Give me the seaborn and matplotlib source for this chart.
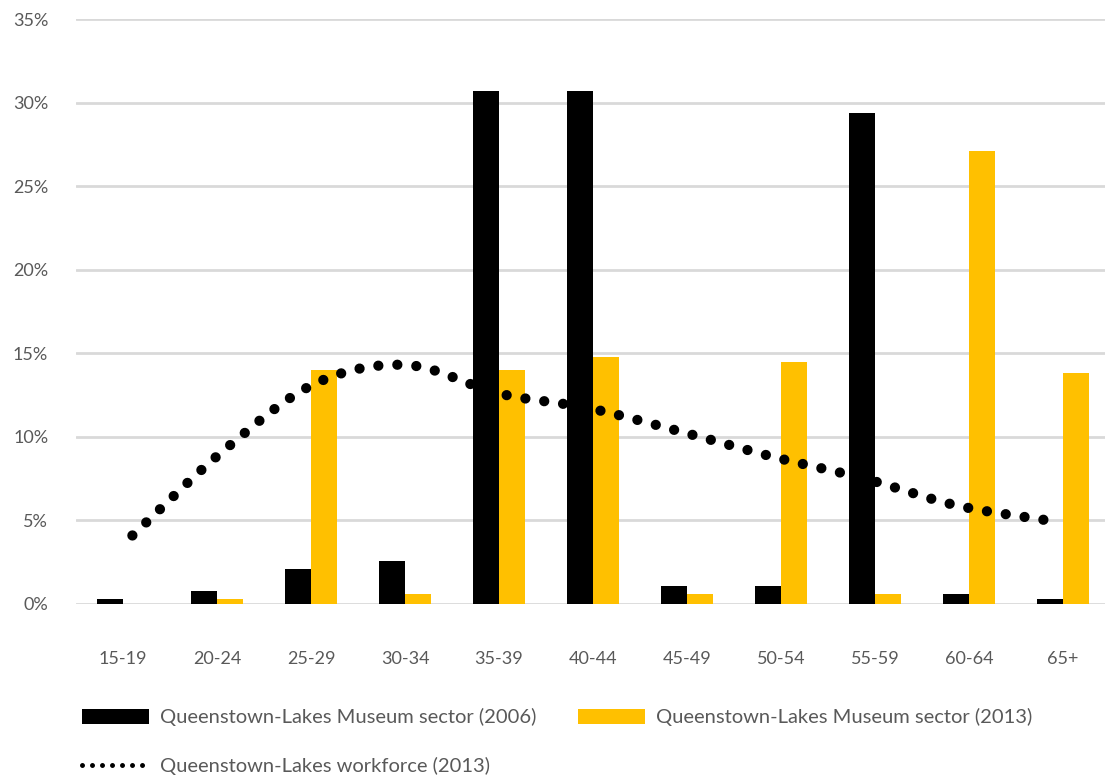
import numpy as np
import pandas as pd
import matplotlib
matplotlib.use("Agg")
import matplotlib.pyplot as plt
import seaborn as sns
from matplotlib.patches import Patch
from matplotlib.lines import Line2D

categories = ["15-19", "20-24", "25-29", "30-34", "35-39", "40-44",
              "45-49", "50-54", "55-59", "60-64", "65+"]
museum_2006 = [0.3, 0.8, 2.1, 2.6, 30.7, 30.7, 1.1, 1.1, 29.4, 0.6, 0.3]
museum_2013 = [0.0, 0.3, 14.0, 0.6, 14.0, 14.8, 0.6, 14.5, 0.6, 27.1, 13.8]
workforce_2013 = [4.1, 9.2, 13.2, 14.3, 12.6, 11.7, 10.3, 8.8, 7.5, 5.9, 5.0]
yticks = [0, 5, 10, 15, 20, 25, 30, 35]

lab06 = "Queenstown-Lakes Museum sector (2006)"
lab13 = "Queenstown-Lakes Museum sector (2013)"
labwf = "Queenstown-Lakes workforce (2013)"

sns.set_theme(style="white")
plt.rcParams["font.family"] = ["Lato", "DejaVu Sans"]

df = pd.DataFrame({
    "age": categories * 2,
    "value": museum_2006 + museum_2013,
    "series": [lab06] * len(categories) + [lab13] * len(categories),
})

fig = plt.figure(figsize=(11.05, 7.79), dpi=100)
ax = fig.add_axes([76 / 1105, 175 / 779, 1034 / 1105, 585 / 779])

sns.barplot(data=df, x="age", y="value", hue="series", order=categories,
            hue_order=[lab06, lab13], palette=["#000000", "#FFC000"],
            saturation=1, width=0.555, gap=0, ax=ax, legend=False, zorder=3,
            edgecolor="none", linewidth=0)

# smoothed workforce line (Catmull-Rom through the data points)
lx = np.linspace(0.1, 9.84, len(workforce_2013))
ly = np.array(workforce_2013)
px = np.concatenate([[2 * lx[0] - lx[1]], lx, [2 * lx[-1] - lx[-2]]])
py = np.concatenate([[2 * ly[0] - ly[1]], ly, [2 * ly[-1] - ly[-2]]])
xs, ys = [], []
t = np.linspace(0, 1, 40, endpoint=False)
for i in range(1, len(px) - 2):
    for arr, out in ((px, xs), (py, ys)):
        p0, p1, p2, p3 = arr[i - 1], arr[i], arr[i + 1], arr[i + 2]
        out.extend(0.5 * (2 * p1 + (-p0 + p2) * t
                          + (2 * p0 - 5 * p1 + 4 * p2 - p3) * t ** 2
                          + (-p0 + 3 * p1 - 3 * p2 + p3) * t ** 3))
xs.append(lx[-1]); ys.append(ly[-1])
ax.plot(xs, ys, color="black", lw=7.4, linestyle=(0, (0.001, 1.85)),
        dash_capstyle="round", zorder=4, clip_on=False)

ax.set_xlim(-0.5, 10.5)
ax.set_ylim(0, 35)
ax.set_yticks(yticks)
ax.set_yticklabels([f"{v}%" for v in yticks])
ax.set_xlabel("")
ax.set_ylabel("")
ax.grid(axis="y", color="#D9D9D9", lw=2, zorder=0)
ax.grid(axis="x", visible=False)
ax.set_axisbelow(True)
for s in ax.spines.values():
    s.set_visible(False)
ax.tick_params(axis="both", length=0, labelsize=13, colors="#595959")
ax.tick_params(axis="y", pad=20)
ax.tick_params(axis="x", pad=34)

handles = [
    Patch(facecolor="black", edgecolor="none", label=lab06),
    Line2D([0], [0], color="black", lw=3.6, linestyle=(0, (0.001, 2.0)),
           dash_capstyle="round", label=labwf),
    Patch(facecolor="#FFC000", edgecolor="none", label=lab13),
]
leg = fig.legend(handles=handles, ncol=2, loc="upper left",
                 bbox_to_anchor=(64 / 1105, 1 - 690 / 779), frameon=False,
                 fontsize=14.5, handlelength=3.3, handleheight=0.75,
                 handletextpad=0.55, columnspacing=2.1, labelspacing=1.55)
for txt in leg.get_texts():
    txt.set_color("#595959")

fig.savefig("out.png", dpi=100)
